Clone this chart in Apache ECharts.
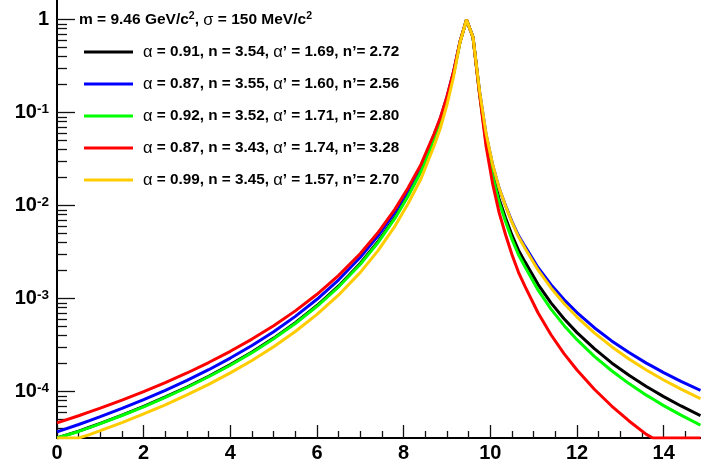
<!DOCTYPE html>
<html><head><meta charset="utf-8">
<script src="https://cdn.jsdelivr.net/npm/echarts@6/dist/echarts.min.js"></script>
<style>html,body{margin:0;padding:0;background:#fff}#c{width:701px;height:468px}</style>
</head><body><div id="c"></div>
<script>
// ---- data ----
const xs = [0, 0.5, 0.75, 1, 1.5, 2, 2.5, 3, 3.5, 4, 4.5, 5, 5.5, 6, 6.5, 7, 7.4, 7.8, 8.1, 8.4, 8.7, 8.85, 9.0, 9.15, 9.3, 9.45, 9.6, 9.75, 9.9, 10.05, 10.2, 10.35, 10.5, 10.65, 10.8, 11.1, 11.4, 11.7, 12.0, 12.4, 12.8, 13.2, 13.6, 13.75, 14.0, 14.4, 14.85];
const yBlack = [3.18e-5, 3.77e-5, 4.15e-5, 4.57e-5, 5.61e-5, 6.97e-5, 8.78e-5, 1.124e-4, 1.467e-4, 1.956e-4, 2.675e-4, 3.77e-4, 5.52e-4, 8.45e-4, 1.372e-3, 2.41e-3, 4.07e-3, 7.52e-3, 1.296e-2, 2.38e-2, 5.22e-2, 8.07e-2, 0.1387, 0.263, 0.575, 0.998, 0.647, 0.1635, 5.06e-2, 2.23e-2, 1.19e-2, 7.41e-3, 4.82e-3, 3.33e-3, 2.49e-3, 1.43e-3, 9.03e-4, 6.09e-4, 4.32e-4, 2.90e-4, 2.04e-4, 1.50e-4, 1.14e-4, 1.036e-4, 8.85e-5, 7.03e-5, 5.54e-5];
const yBlue = [3.70e-5, 4.44e-5, 4.89e-5, 5.39e-5, 6.61e-5, 8.21e-5, 1.034e-4, 1.323e-4, 1.725e-4, 2.30e-4, 3.14e-4, 4.42e-4, 6.46e-4, 9.86e-4, 1.597e-3, 2.79e-3, 4.68e-3, 8.60e-3, 1.47e-2, 2.67e-2, 5.76e-2, 8.78e-2, 0.1485, 0.275, 0.579, 0.998, 0.647, 0.1713, 5.89e-2, 2.78e-2, 1.557e-2, 1.005e-2, 6.74e-3, 4.78e-3, 3.65e-3, 2.17e-3, 1.415e-3, 9.79e-4, 7.10e-4, 4.88e-4, 3.52e-4, 2.64e-4, 2.03e-4, 1.86e-4, 1.605e-4, 1.293e-4, 1.034e-4];
const yGreen = [3.18e-5, 3.74e-5, 4.12e-5, 4.53e-5, 5.55e-5, 6.89e-5, 8.68e-5, 1.110e-4, 1.448e-4, 1.927e-4, 2.63e-4, 3.71e-4, 5.42e-4, 8.29e-4, 1.344e-3, 2.35e-3, 3.97e-3, 7.35e-3, 1.265e-2, 2.33e-2, 5.11e-2, 7.92e-2, 0.1366, 0.260, 0.5735, 0.998, 0.647, 0.1620, 4.86e-2, 2.10e-2, 1.101e-2, 6.75e-3, 4.34e-3, 2.97e-3, 2.20e-3, 1.242e-3, 7.74e-4, 5.16e-4, 3.63e-4, 2.40e-4, 1.68e-4, 1.222e-4, 9.19e-5, 8.34e-5, 7.09e-5, 5.60e-5, 4.38e-5];
const yRed = [4.62e-5, 5.52e-5, 6.06e-5, 6.66e-5, 8.11e-5, 1.0007e-4, 1.252e-4, 1.590e-4, 2.06e-4, 2.72e-4, 3.68e-4, 5.12e-4, 7.40e-4, 1.116e-3, 1.782e-3, 3.06e-3, 5.08e-3, 9.19e-3, 1.551e-2, 2.78e-2, 5.90e-2, 8.93e-2, 0.1499, 0.2757, 0.5795, 0.998, 0.647, 0.1598, 4.40e-2, 1.75e-2, 8.53e-3, 4.90e-3, 2.97e-3, 1.925e-3, 1.36e-3, 7.07e-4, 4.10e-4, 2.57e-4, 1.71e-4, 1.063e-4, 7.02e-5, 4.85e-5, 3.48e-5, 3.18e-5, 3.18e-5, 3.18e-5, 3.18e-5];
const yYellow = [3.18e-5, 3.18e-5, 3.46e-5, 3.81e-5, 4.66e-5, 5.77e-5, 7.24e-5, 9.24e-5, 1.200e-4, 1.594e-4, 2.17e-4, 3.05e-4, 4.44e-4, 6.78e-4, 1.098e-3, 1.92e-3, 3.25e-3, 6.04e-3, 1.048e-2, 1.95e-2, 4.38e-2, 6.90e-2, 0.1221, 0.242, 0.5683, 0.998, 0.647, 0.1738, 6.03e-2, 2.82e-2, 1.564e-2, 9.96e-3, 6.61e-3, 4.63e-3, 3.49e-3, 2.04e-3, 1.304e-3, 8.88e-4, 6.35e-4, 4.29e-4, 3.05e-4, 2.25e-4, 1.71e-4, 1.56e-4, 1.337e-4, 1.066e-4, 8.43e-5];
const seriesNames = [
  'α = 0.91, n = 3.54, α’ = 1.69, n’= 2.72',
  'α = 0.87, n = 3.55, α’ = 1.60, n’= 2.56',
  'α = 0.92, n = 3.52, α’ = 1.71, n’= 2.80',
  'α = 0.87, n = 3.43, α’ = 1.74, n’= 3.28',
  'α = 0.99, n = 3.45, α’ = 1.57, n’= 2.70'
];
const xTickLabels = [0, 2, 4, 6, 8, 10, 12, 14];
const yTickValues = [1e-4, 1e-3, 1e-2, 1e-1, 1];
const X_MIN = 0, X_MAX = 15;
const Y_MIN = 3.18e-5, Y_MAX = 1.628;

// ---- styling / construction ----
const FONT = "'Liberation Sans', Arial, Helvetica, sans-serif";
const colors = ['#000000', '#0000ff', '#00ff00', '#ff0000', '#ffcc00'];
const allY = [yBlack, yBlue, yGreen, yRed, yYellow];

const xMinor = [];
for (let v = 0.5; v < X_MAX; v += 0.5) { if (v % 2 !== 0) xMinor.push(v); }
const yMinor = [];
for (let d = -5; d <= 0; d++) {
  for (let m = 2; m <= 9; m++) {
    const v = Number((m * Math.pow(10, d)).toPrecision(3));
    if (v >= Y_MIN && v <= Y_MAX) yMinor.push(v);
  }
}

const chart = echarts.init(document.getElementById('c'), null, {renderer: 'canvas', width: 701, height: 468});

const tickStyle = {color: '#111', width: 1.3};
const option = {
  animation: false,
  backgroundColor: '#ffffff',
  title: {
    left: 79, top: 11, padding: 0,
    text: 'm = 9.46 GeV/c{s|2}, {g|σ} = 150 MeV/c{s|2}',
    textStyle: {
      fontFamily: FONT, fontWeight: 'bold', fontSize: 15.5, color: '#000', lineHeight: 18,
      rich: {
        s: {fontFamily: FONT, fontWeight: 'bold', fontSize: 10.5, lineHeight: 10, verticalAlign: 'top', color: '#000'},
        g: {fontFamily: FONT, fontWeight: 'normal', fontSize: 16.5, lineHeight: 18, color: '#000'}
      }
    }
  },
  legend: {
    orient: 'vertical', left: 84, top: 43, padding: 0,
    itemWidth: 49, itemHeight: 3, itemGap: 14,
    icon: 'rect', selectedMode: false,
    data: seriesNames,
    formatter: function (name) { return name.replace(/α/g, '{g|α}'); },
    textStyle: {
      fontFamily: FONT, fontWeight: 'bold', fontSize: 15.3, color: '#000', lineHeight: 18,
      padding: [0, 0, 0, 5],
      rich: {g: {fontFamily: FONT, fontWeight: 'normal', fontSize: 16.5, lineHeight: 18, color: '#000'}}
    }
  },
  grid: {left: 57, top: 0, width: 650, height: 438, containLabel: false, outerBoundsMode: 'none'},
  xAxis: [
    {
      type: 'value', min: X_MIN, max: X_MAX, position: 'bottom',
      axisLine: {show: true, onZero: false, lineStyle: {color: '#000', width: 2}},
      axisTick: {show: true, inside: true, length: 13, customValues: xTickLabels, lineStyle: tickStyle},
      axisLabel: {show: true, customValues: xTickLabels, margin: 5, fontFamily: FONT, fontWeight: 'bold', fontSize: 20, color: '#000'},
      splitLine: {show: false}, minorTick: {show: false}
    },
    {
      type: 'value', min: X_MIN, max: X_MAX, position: 'bottom', gridIndex: 0,
      axisLine: {show: false, onZero: false},
      axisTick: {show: true, inside: true, length: 7, customValues: xMinor, lineStyle: tickStyle},
      axisLabel: {show: false}, splitLine: {show: false}
    }
  ],
  yAxis: [
    {
      type: 'log', logBase: 10, min: Y_MIN, max: Y_MAX, position: 'left',
      axisLine: {show: true, onZero: false, lineStyle: {color: '#000', width: 2}},
      axisTick: {show: true, inside: true, length: 18, customValues: yTickValues, lineStyle: tickStyle},
      axisLabel: {
        show: true, customValues: yTickValues, margin: 8, color: '#000',
        fontFamily: FONT, fontWeight: 'bold', fontSize: 20,
        formatter: function (v) {
          const e = Math.round(Math.log10(v));
          if (e === 0) return '{b|1}';
          return '{b|10}{s|' + e + '}';
        },
        rich: {
          b: {fontFamily: FONT, fontWeight: 'bold', fontSize: 20, lineHeight: 20, color: '#000'},
          s: {fontFamily: FONT, fontWeight: 'bold', fontSize: 13.5, lineHeight: 12, verticalAlign: 'top', color: '#000'}
        }
      },
      splitLine: {show: false}
    },
    {
      type: 'log', logBase: 10, min: Y_MIN, max: Y_MAX, position: 'left', gridIndex: 0,
      axisLine: {show: false, onZero: false},
      axisTick: {show: true, inside: true, length: 10, customValues: yMinor, lineStyle: tickStyle},
      axisLabel: {show: false}, splitLine: {show: false}
    }
  ],
  series: allY.map(function (arr, k) {
    return {
      name: seriesNames[k], type: 'line', xAxisIndex: 0, yAxisIndex: 0,
      data: xs.map(function (x, i) { return [x, arr[i]]; }),
      showSymbol: false, symbol: 'none', smooth: false, clip: true,
      color: colors[k],
      lineStyle: {color: colors[k], width: 3},
      itemStyle: {color: colors[k]},
      emphasis: {disabled: true},
      z: 2 + k
    };
  })
};
chart.setOption(option);
</script>
</body></html>
